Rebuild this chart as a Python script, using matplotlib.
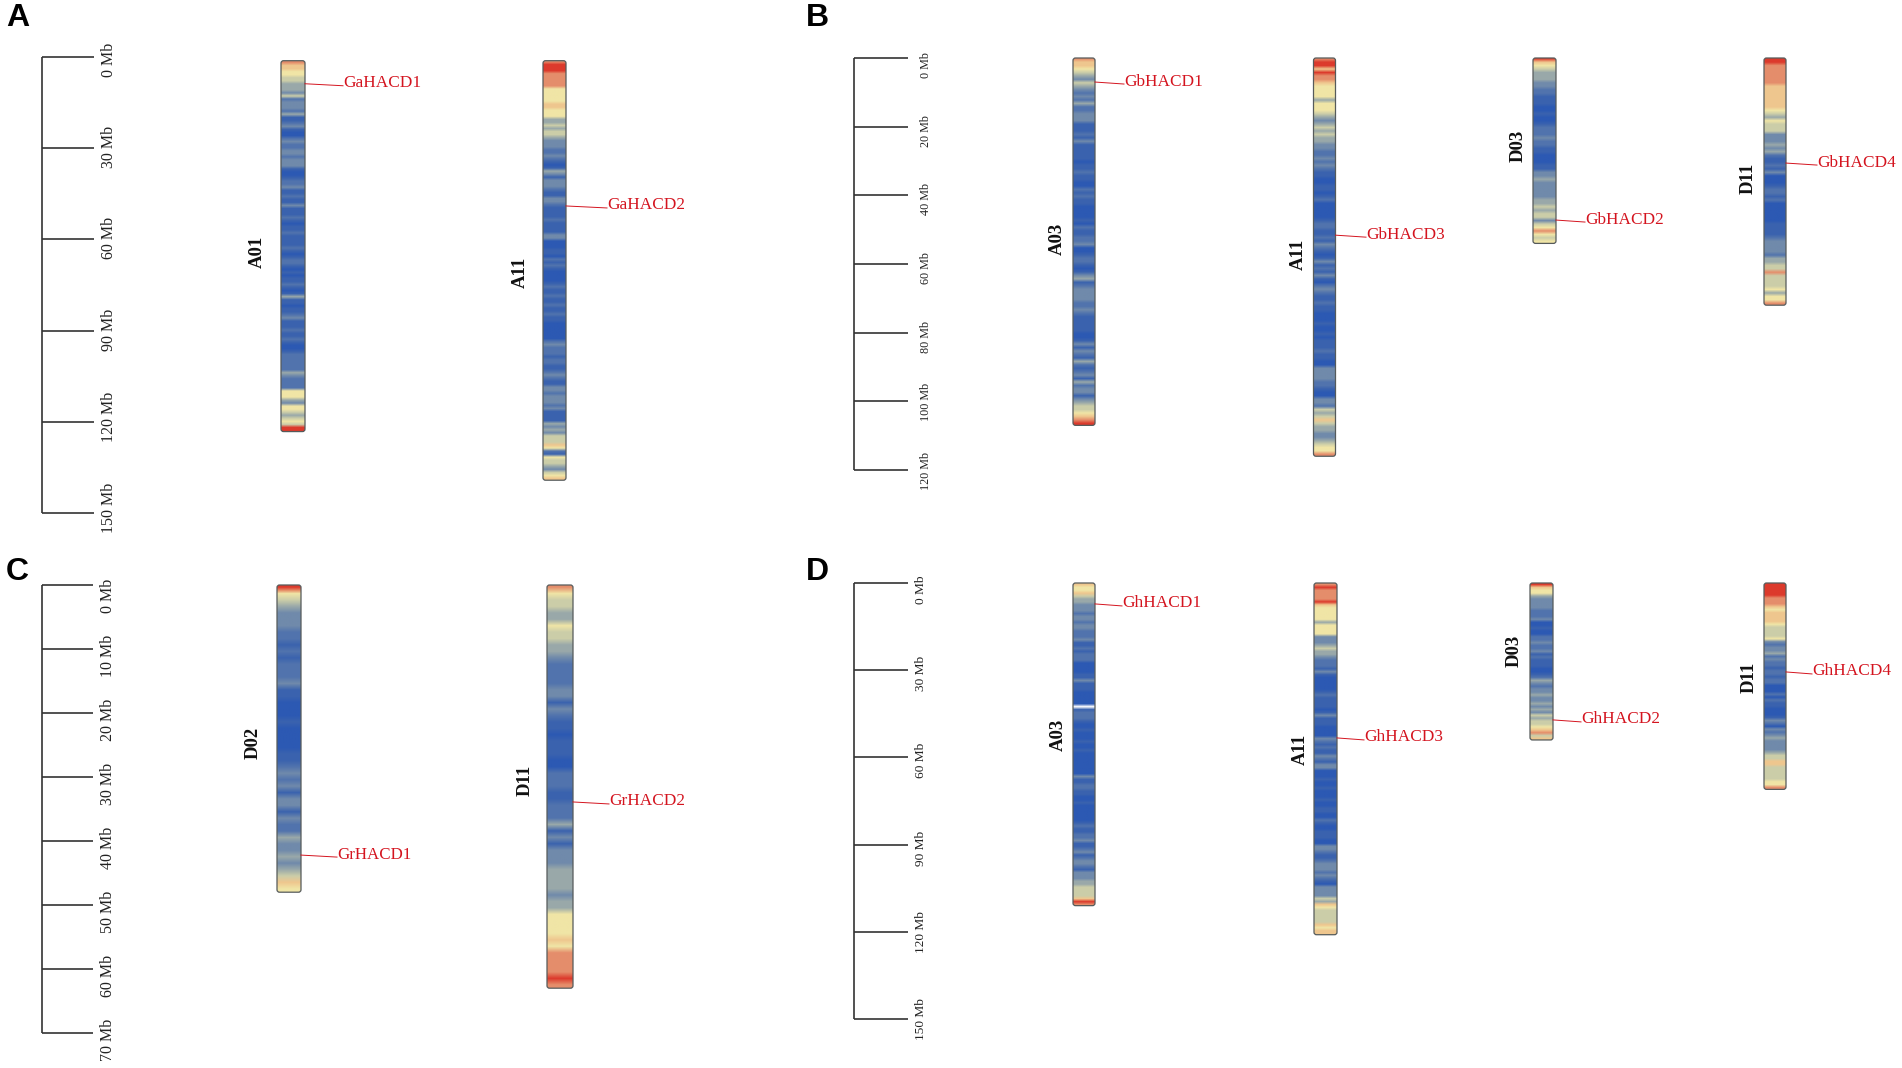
import numpy as np
import matplotlib
matplotlib.use("Agg")
import matplotlib.pyplot as plt
from matplotlib.colors import LinearSegmentedColormap
from matplotlib.patches import FancyBboxPatch

W, H = 1902, 1068
nan = float("nan")

# gene density per 1 Mb bin, 0 = sparse (blue) ... 9 = dense (red)
ga_a01 = [8,7,7,6,6,5,5,4,4,4, 3,5,2,3,3,3,2,4,1,1, 2,3,1,0,0,2,3,2,2,3, 3,2,3,3,3,1,0,0,1,2,
          2,3,1,1,2,1,1,3,1,1, 1,2,1,0,1,1,2,1,1,1, 1,2,1,0,1,2,2,1,0,1, 0,1,1,2,1,0,1,4,1,1,
          0,1,1,2,3,1,1,1,2,1, 1,2,1,0,0,1,2,2,2,2, 2,2,4,3,2,2,2,2,6,6, 6,4,3,6,6,5,4,5,6,5,9,9]
ga_a11 = [8,9,9,9,8,8,8,8,8,6, 6,6,6,6,7,7,6,6,6,4, 4,5,4,5,5,4,3,3,3,2, 2,3,2,1,0,1,4,3,1,3,
          3,3,2,1,1,3,3,2,1,1, 1,1,2,1,1,1,1,3,3,0, 0,0,1,1,0,2,1,2,1,0, 0,0,0,1,2,1,1,2,1,1,
          2,1,1,2,1,1,0,0,0,0, 0,0,2,3,2,2,2,1,2,2, 1,1,2,3,2,1,1,3,3,2, 3,3,3,2,3,1,1,1,1,4,
          3,4,3,5,5,5,7,6,2,1, 6,5,5,4,3,5,6,7]
gb_a03 = [8,7,7,6,5,4,3,5,4,3, 2,3,2,4,2,2,3,3,3,1, 1,1,2,1,3,1,1,1,1,1, 0,1,1,2,1,1,0,0,2,1,
          2,1,1,0,0,0,0,1,0,2, 1,1,2,2,3,0,0,1,2,2, 1,0,1,3,4,1,2,3,3,3, 3,2,2,3,2,1,1,1,1,1,
          0,0,1,3,1,3,2,1,4,2, 1,2,3,1,4,2,3,3,1,3, 4,5,5,6,7,8,9]
gb_a11 = [8,9,9,7,9,8,8,7,6,6, 6,6,4,6,6,6,5,4,3,4, 5,4,5,4,4,3,3,2,2,3, 2,3,2,1,1,0,0,1,1,0,
          1,2,0,0,0,0,0,1,2,2, 1,1,2,1,3,2,1,0,1,3, 1,2,1,3,1,0,2,3,2,1, 1,2,1,1,0,0,0,1,0,0,
          1,0,1,1,1,2,1,1,0,0, 3,3,3,3,2,2,1,0,0,3, 3,2,5,4,5,7,5,4,4,3, 3,4,5,6,6,8]
gb_d03 = [9,7,6,5,4,4,4,3,3,2, 2,1,1,1,0,0,1,0,0,1, 2,2,2,3,2,2,1,1,0,0, 0,1,1,3,3,4,3,3,3,3,
          3,4,4,5,4,5,5,3,5,6, 8,6,5,6]
gb_d11 = [9,9,8,8,8,8,8,8,7,7, 7,7,7,7,7,6,5,4,6,5, 5,5,3,3,3,4,3,4,2,1, 1,2,1,3,0,0,0,1,2,2,
          1,2,0,0,0,0,0,0,1,1, 1,1,2,3,3,3,3,2,4,4, 5,5,8,5,5,5,5,6,4,6,6,8]
gr_d02 = [9,6,5,4,3,3,3,2,2,1, 2,1,2,2,2,3,1,1,0,0, 0,1,0,0,0,0,1,1,2,3, 2,3,1,3,3,1,3,2,2,4,
          3,3,4,3,4,5,7,6]
gr_d11 = [8,6,5,5,4,4,6,5,5,4, 4,3,2,2,2,2,3,3,1,3, 2,1,1,0,1,1,1,0,0,2, 2,2,1,1,2,2,2,4,1,3,
          1,3,3,3,4,4,4,4,3,4, 4,6,6,6,6,7,6,8,8,8, 8,9,8]
gh_a03 = [7,6,6,7,5,4,4,3,3,3, 2,3,3,2,3,3,2,2,2,3, 1,1,2,1,2,2,2,0,0,0, 0,1,1,3,1,1,1,0,0,0,
          0,0,nan,1,2,2,2,1,0,0, 1,0,0,0,1,0,0,1,0,0, 0,0,0,0,0,0,3,1,1,2, 2,1,1,0,0,1,0,0,0,0,
          0,0,1,2,1,1,2,2,3,1, 1,2,3,1,2,3,3,2,1,3, 3,3,4,4,5,5,5,5,7,9,8]
gh_a11 = [8,9,8,8,8,8,9,7,6,6, 6,6,6,4,6,6,6,6,3,3, 3,4,5,4,4,3,2,2,2,1, 3,1,0,0,0,0,0,1,2,1,
          1,1,1,0,1,3,1,1,1,0, 0,0,0,3,2,1,2,1,1,3, 2,1,3,3,0,0,0,1,0,0, 1,0,0,0,1,0,0,1,1,0,
          0,2,1,0,0,1,1,1,0,0, 3,3,2,1,1,2,3,3,3,2, 3,2,1,0,3,3,3,3,5,4, 7,6,5,5,5,5,5,7,6,7,7]
gh_d03 = [9,7,6,6,4,3,3,3,3,2, 2,2,3,0,0,1,0,0,2,2, 3,2,2,3,1,2,1,1,1,0, 0,1,2,4,3,2,3,3,4,3,
          3,4,3,4,3,5,4,5,5,6, 7,8,5,7]
gh_d11 = [9,9,9,9,9,8,8,8,7,6, 7,7,7,7,6,5,5,5,5,6, 3,2,3,3,4,2,3,2,2,1, 2,2,1,2,2,0,0,0,2,0,
          2,1,1,0,0,0,1,3,2,0, 3,2,3,4,3,3,3,3,4,5, 5,7,7,5,5,5,5,5,6,6,8]

# ruler ticks in Mb
ticks_a = [0, 30, 60, 90, 120, 150]
ticks_b = [0, 20, 40, 60, 80, 100, 120]
ticks_c = [0, 10, 20, 30, 40, 50, 60, 70]
ticks_d = [0, 30, 60, 90, 120, 150]

# gene positions in Mb
genes_a = {"GaHACD1": 8.8, "GaHACD2": 49.0}
genes_b = {"GbHACD1": 7.0, "GbHACD3": 51.6, "GbHACD2": 47.2, "GbHACD4": 30.6}
genes_c = {"GrHACD1": 42.2, "GrHACD2": 33.9}
genes_d = {"GhHACD1": 7.2, "GhHACD3": 53.3, "GhHACD2": 47.1, "GhHACD4": 30.6}

plt.rcParams["font.family"] = ["Liberation Serif", "DejaVu Serif"]
density = LinearSegmentedColormap.from_list("density", [
    "#2c59b3", "#3b63ae", "#5274ad", "#708aab", "#9aa9a9",
    "#cbcda9", "#f0e5a6", "#efc88f", "#e58f6c", "#dc3a2c"], N=256)
RED = "#d4141f"
DARK = "#333333"

fig = plt.figure(figsize=(W / 100, H / 100), dpi=100)


def make_panel(letter, letter_x, letter_y, ruler_x, ruler_len, y0, y1, ticks, label_size, label_x, label_dy):
    ax = fig.add_axes([0, 1 - y1 / H, 1, (y1 - y0) / H])
    ax.set_xlim(0, W)
    ax.set_ylim(ticks[-1], 0)
    ax.axis("off")
    ppm = (y1 - y0) / ticks[-1]
    ax.vlines(ruler_x, 0, ticks[-1], color=DARK, lw=1.2, clip_on=False)
    ax.hlines(ticks, ruler_x, ruler_x + ruler_len, color=DARK, lw=1.2, clip_on=False)
    for t in ticks:
        # labels start just under the tick and run upwards
        ax.text(label_x, t + label_dy / ppm, f"{t} Mb", rotation=90, ha="left", va="center",
                fontsize=label_size, color="#222222", clip_on=False, rotation_mode="anchor")
    fig.text(letter_x / W, 1 - letter_y / H, letter, fontsize=23, fontweight="bold",
             family="Liberation Sans", va="baseline", color="black")
    return ax, ppm


def draw_chrom(ax, ppm, bins, name, left, right, start_px, name_x, name_y):
    start = start_px / ppm
    values = np.array(bins, dtype=float)
    rgba = density(values / 9)
    rgba[np.isnan(values)] = (1, 1, 1, 1)
    img = ax.imshow(rgba[:, None, :], extent=(left, right, start + len(bins), start),
                    aspect="auto", interpolation="bilinear", origin="upper")
    box = FancyBboxPatch((left, start), right - left, len(bins),
                         boxstyle="round,pad=0,rounding_size=2.5", mutation_aspect=1 / ppm,
                         fc="none", ec="#565b5b", lw=0.9, clip_on=False)
    ax.add_patch(box)
    img.set_clip_path(box)
    fig.text((name_x + 2.5) / W, 1 - name_y / H, name, rotation=90, fontsize=13.5, fontweight="bold",
             ha="center", va="center", color="#111111")


def draw_gene(ax, ppm, name, pos, left, text_x, size=12.4):
    ax.plot([left, text_x], [pos, pos + 2 / ppm], color=RED, lw=0.7, clip_on=False)
    ax.text(text_x, pos - 0.5 / ppm, name, color=RED, fontsize=size, va="center", ha="left",
            clip_on=False)


ax, ppm = make_panel("A", 6, 26, 42, 52, 57, 513, ticks_a, 11.5, 109, 20)
draw_chrom(ax, ppm, ga_a01, "A01", 281, 305, 3.7, 255, 252)
draw_chrom(ax, ppm, ga_a11, "A11", 543, 566, 3.7, 518, 272)
draw_gene(ax, ppm, "GaHACD1", genes_a["GaHACD1"], 305, 343)
draw_gene(ax, ppm, "GaHACD2", genes_a["GaHACD2"], 566, 607)

ax, ppm = make_panel("B", 806, 26, 853.5, 54, 58, 470, ticks_b, 8.7, 926, 20)
draw_chrom(ax, ppm, gb_a03, "A03", 1073, 1095, 0, 1055, 239)
draw_chrom(ax, ppm, gb_a11, "A11", 1313.5, 1335.5, 0, 1296, 254)
draw_chrom(ax, ppm, gb_d03, "D03", 1533, 1556, 0, 1516, 146)
draw_chrom(ax, ppm, gb_d11, "D11", 1764, 1786, 0, 1746, 178)
draw_gene(ax, ppm, "GbHACD1", genes_b["GbHACD1"], 1095, 1124)
draw_gene(ax, ppm, "GbHACD3", genes_b["GbHACD3"], 1335.5, 1366)
draw_gene(ax, ppm, "GbHACD2", genes_b["GbHACD2"], 1556, 1585)
draw_gene(ax, ppm, "GbHACD4", genes_b["GbHACD4"], 1786, 1817)

ax, ppm = make_panel("C", 6, 580, 42, 51, 585, 1033, ticks_c, 11.5, 108, 28)
draw_chrom(ax, ppm, gr_d02, "D02", 277, 301, 0, 251, 743)
draw_chrom(ax, ppm, gr_d11, "D11", 547, 573, 0, 523, 780)
draw_gene(ax, ppm, "GrHACD1", genes_c["GrHACD1"], 301, 337, 12.2)
draw_gene(ax, ppm, "GrHACD2", genes_c["GrHACD2"], 573, 609)

ax, ppm = make_panel("D", 806, 580, 853.5, 54, 583, 1019, ticks_d, 9.6, 921, 21)
draw_chrom(ax, ppm, gh_a03, "A03", 1073, 1095, 0, 1056, 735)
draw_chrom(ax, ppm, gh_a11, "A11", 1314, 1337, 0, 1298, 749)
draw_chrom(ax, ppm, gh_d03, "D03", 1530, 1553, 0, 1512, 651)
draw_chrom(ax, ppm, gh_d11, "D11", 1764, 1786, 0, 1747, 677)
draw_gene(ax, ppm, "GhHACD1", genes_d["GhHACD1"], 1095, 1122)
draw_gene(ax, ppm, "GhHACD3", genes_d["GhHACD3"], 1337, 1364)
draw_gene(ax, ppm, "GhHACD2", genes_d["GhHACD2"], 1553, 1581)
draw_gene(ax, ppm, "GhHACD4", genes_d["GhHACD4"], 1786, 1812)

fig.savefig("out.png", dpi=100, facecolor="white")
